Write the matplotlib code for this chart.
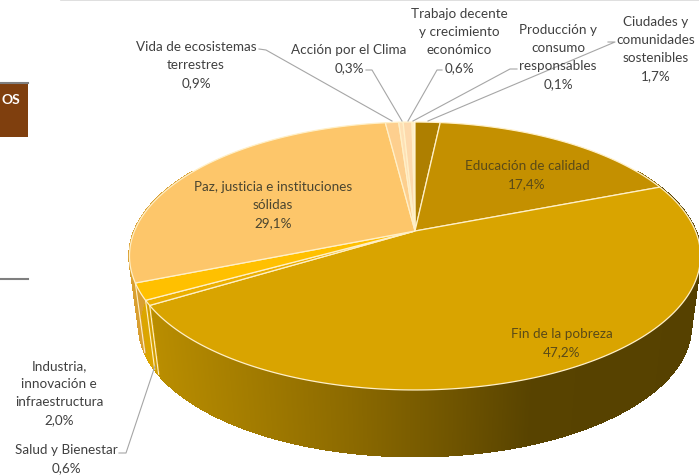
import numpy as np
import matplotlib
matplotlib.use("Agg")
import matplotlib.pyplot as plt
from matplotlib.collections import PolyCollection
from matplotlib.patches import Polygon, Rectangle

plt.rcParams["font.family"] = ["Lato", "DejaVu Sans"]

categories = [
    "Ciudades y\ncomunidades\nsostenibles",
    "Educación de calidad",
    "Fin de la pobreza",
    "Salud y Bienestar",
    "Industria,\ninnovación e\ninfraestructura",
    "Paz, justicia e instituciones\nsólidas",
    "Vida de ecosistemas\nterrestres",
    "Acción por el Clima",
    "Trabajo decente\ny crecimiento\neconómico",
    "Producción y\nconsumo\nresponsables",
]
values = [1.7, 17.4, 47.2, 0.6, 2.0, 29.1, 0.9, 0.3, 0.6, 0.1]

top_colors = ["#AE7F00", "#C49000", "#D9A400", "#EBAF00", "#FFC000",
              "#FDC66A", "#FDCF8E", "#FEE0B5", "#FDD9AC", "#FEE8CC"]
side_colors = ["#7A5900", "#896500", None, "#D09C00", "#DBA500",
               "#D99F30", "#C9A060", "#C9A060", "#C9A060", "#C9A060"]

# where the labels go: centre x, centre y of the whole block
label_pos = [(656, 49), (527, 175), (562, 343), (66, 459), (59, 393),
             (273, 205), (196, 65), (349, 59), (459, 41), (558, 57)]
leaders = {
    0: [(608, 43), (615, 43), (428, 122)],
    3: [(119, 454), (126, 454), (155, 367)],
    6: [(259, 50), (266, 51), (392, 122)],
    7: [(366, 71), (372, 71), (402, 122)],
    8: [(442, 71), (437, 71), (408, 122)],
    9: [(517, 70), (510, 70), (413, 122)],
}

# perspective of the disc
CX, CY, R, S, P = 415, 232, 280.5, 129.3, 0.1866
BOT_Y, BOT_R, BOT_S = 303, 271, 125.5


def rim(theta, y0=CY, r=R, s=S):
    u, v = np.sin(theta), np.cos(theta)
    d = 1 + P * v
    return CX + r * u / d, y0 - s * v / d


def fin_shade(x):
    stops = [150, 250, 350, 450, 530, 700]
    reds = [186, 163, 140, 112, 88, 86]
    greens = [142, 124, 106, 85, 67, 65]
    return (np.interp(x, stops, reds) / 255, np.interp(x, stops, greens) / 255, 0)


fig = plt.figure(figsize=(6.99, 4.77), dpi=100)
ax = fig.add_axes([0, 0, 1, 1])
ax.set_xlim(0, 699)
ax.set_ylim(477, 0)
ax.axis("off")

edges = np.radians(np.concatenate([[0], np.cumsum(values)]) * 3.6)
CREAM = "#FFF0C8"

# side wall, only the front shows
front_lo, front_hi = np.radians(60), np.radians(300)
for i in range(len(values)):
    lo, hi = max(edges[i], front_lo), min(edges[i + 1], front_hi)
    if lo >= hi:
        continue
    t = np.linspace(lo, hi, max(int((hi - lo) * 300), 2))
    xt, yt = rim(t)
    xb, yb = rim(t, BOT_Y, BOT_R, BOT_S)
    quads, cols = [], []
    for k in range(len(t) - 1):
        quads.append([(xt[k], yt[k]), (xt[k + 1], yt[k + 1]), (xb[k + 1], yb[k + 1]), (xb[k], yb[k])])
        xm = (xt[k] + xb[k]) / 2
        cols.append(fin_shade(xm) if side_colors[i] is None else side_colors[i])
    ax.add_collection(PolyCollection(quads, facecolors=cols, edgecolors=cols, linewidths=1.0,
                                     antialiaseds=False, zorder=2))

# seams between the wall pieces on the left
for e in edges[3:6]:
    xt, yt = rim(e)
    xb, yb = rim(e, BOT_Y, BOT_R, BOT_S)
    ax.plot([xt, xb], [yt, yb], color=CREAM, lw=0.8, zorder=3)

# top of the pie
for i in range(len(values)):
    t = np.linspace(edges[i], edges[i + 1], max(int((edges[i + 1] - edges[i]) * 80), 3))
    xs, ys = rim(t)
    pts = [(CX, CY)] + list(zip(xs, ys))
    ax.add_patch(Polygon(pts, closed=True, facecolor=top_colors[i], edgecolor=CREAM, lw=0.9, zorder=4))

# leader lines
for i, pts in leaders.items():
    ax.plot([p[0] for p in pts], [p[1] for p in pts], color="#A6A6A6", lw=0.8, zorder=5)

# labels
for i, (name, val) in enumerate(zip(categories, values)):
    txt = name + "\n" + f"{val:.1f}%".replace(".", ",")
    color = "#5A4A18" if i in (1, 2) else ("#4A4530" if i == 5 else "#404040")
    ax.text(label_pos[i][0], label_pos[i][1], txt, ha="center", va="center", ma="center",
            fontsize=9.7, color=color, linespacing=1.58, zorder=6)

# bits of the page around the chart
ax.plot([61, 699], [0.5, 0.5], color="#D9D9D9", lw=1.2, zorder=1)
ax.add_patch(Rectangle((0, 83), 28, 55, facecolor="#7F3F0E", edgecolor="none", zorder=1))
ax.plot([0, 28], [83.5, 83.5], color="#7F7F7F", lw=1.5, zorder=2)
ax.plot([0, 28], [279.5, 279.5], color="#7F7F7F", lw=1.5, zorder=1)
ax.text(1, 100, "OS", color="white", fontsize=10, fontweight="bold", ha="left", va="center", zorder=3)

fig.savefig("out.png", dpi=100)
